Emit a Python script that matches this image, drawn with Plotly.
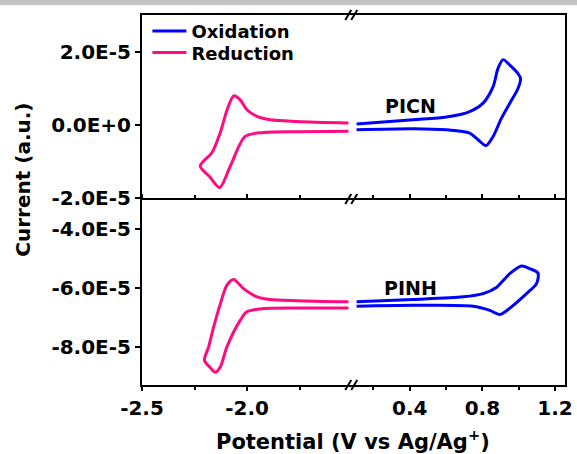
import plotly.graph_objects as go

SCALE = 1e-5  # currents below are given in units of 1E-5

# ---------------- data ----------------
# PICN, reduction sweep (pink) : potential (V), current (x1E-5)
picn_red_v = [-1.518, -1.763, -1.890, -1.953, -2.001, -2.033, -2.064, -2.095, -2.128, -2.167, -2.223,
              -2.177, -2.131, -2.080, -2.009, -1.922, -1.747, -1.518]
picn_red_i = [0.046, 0.09, 0.136, 0.23, 0.41, 0.68, 0.79, 0.41, -0.22, -0.76, -1.13,
              -1.43, -1.72, -1.13, -0.32, -0.21, -0.19, -0.18]

# PICN, oxidation sweep (blue)
picn_ox_v = [0.107, 0.418, 0.602, 0.730, 0.804, 0.859, 0.886, 0.914, 0.951, 0.996, 1.010,
             0.996, 0.951, 0.905, 0.859, 0.819, 0.776, 0.730, 0.602, 0.418, 0.107]
picn_ox_i = [0.02, 0.136, 0.21, 0.36, 0.59, 1.04, 1.54, 1.78, 1.63, 1.40, 1.27,
             0.99, 0.59, 0.18, -0.32, -0.57, -0.41, -0.23, -0.14, -0.11, -0.14]

# PINH, reduction sweep (pink)
pinh_red_v = [-1.518, -1.763, -1.890, -1.953, -2.017, -2.064, -2.096, -2.127, -2.159, -2.183, -2.203,
              -2.178, -2.151, -2.127, -2.096, -2.033, -2.001, -1.922, -1.747, -1.518]
pinh_red_i = [-6.47, -6.43, -6.39, -6.30, -6.02, -5.71, -5.90, -6.53, -7.32, -8.00, -8.46,
              -8.69, -8.87, -8.68, -8.00, -7.10, -6.81, -6.70, -6.68, -6.68]

# PINH, oxidation sweep (blue)
pinh_ox_v = [0.107, 0.418, 0.694, 0.804, 0.877, 0.951, 1.015, 1.061, 1.106,
             1.098, 1.043, 0.960, 0.896, 0.841, 0.749, 0.418, 0.107]
pinh_ox_i = [-6.47, -6.39, -6.30, -6.19, -5.98, -5.51, -5.25, -5.34, -5.49,
             -5.85, -6.19, -6.64, -6.90, -6.76, -6.62, -6.59, -6.62]

x_left_ticks = [-2.5, -2.0]
x_left_labels = ["-2.5", "-2.0"]
x_left_minor = [-2.25, -1.75]
x_right_ticks = [0.4, 0.8, 1.2]
x_right_labels = ["0.4", "0.8", "1.2"]
x_right_minor = [0.2, 0.6, 1.0]
y_top_ticks = [-2e-5, 0.0, 2e-5]
y_top_labels = ["-2.0E-5", "0.0E+0", "2.0E-5"]
y_bot_ticks = [-8e-5, -6e-5, -4e-5]
y_bot_labels = ["-8.0E-5", "-6.0E-5", "-4.0E-5"]

# ---------------- style ----------------
BLUE = "#0000FF"
PINK = "#FF0A82"
FONT = "DejaVu Sans"
SPLIT = 0.497
MID = 0.503
GAP = 1.0 / 370  # lets the two panel borders meet in one line
LW = 3

def sc(vals):
    return [v * SCALE for v in vals]

fig = go.Figure()
fig.add_trace(go.Scatter(x=picn_ox_v, y=sc(picn_ox_i), xaxis="x2", yaxis="y3", mode="lines",
                         name="Oxidation", legend="legend",
                         line=dict(color=BLUE, width=LW, shape="spline", smoothing=0.8)))
fig.add_trace(go.Scatter(x=picn_red_v, y=sc(picn_red_i), xaxis="x", yaxis="y", mode="lines",
                         name="Reduction", legend="legend2",
                         line=dict(color=PINK, width=LW, shape="spline", smoothing=0.8)))
fig.add_trace(go.Scatter(x=pinh_ox_v, y=sc(pinh_ox_i), xaxis="x2", yaxis="y4", mode="lines",
                         showlegend=False, line=dict(color=BLUE, width=LW, shape="spline", smoothing=0.8)))
fig.add_trace(go.Scatter(x=pinh_red_v, y=sc(pinh_red_i), xaxis="x", yaxis="y2", mode="lines",
                         showlegend=False, line=dict(color=PINK, width=LW, shape="spline", smoothing=0.8)))

tickfont = dict(family=FONT, size=20, color="black", weight="bold")
axline = dict(showline=True, linecolor="black", linewidth=2, showgrid=False, zeroline=False,
              automargin=False)
legfont = dict(family=FONT, size=18, color="black", weight="bold")

fig.update_layout(
    width=577, height=454,
    margin=dict(l=142, r=12, t=15, b=69, autoexpand=False),
    paper_bgcolor="white", plot_bgcolor="white",
    xaxis=dict(domain=[0, SPLIT], range=[-2.5, -1.5], anchor="y2", mirror="all",
               tickvals=x_left_ticks, ticktext=x_left_labels, ticks="outside", ticklen=4,
               tickwidth=2, tickcolor="black", tickfont=tickfont,
               minor=dict(tickvals=x_left_minor, ticks="outside", ticklen=3, tickwidth=2, tickcolor="black"),
               **axline),
    xaxis2=dict(domain=[SPLIT, 1], range=[0.083, 1.255], anchor="y4", mirror="all",
                tickvals=x_right_ticks, ticktext=x_right_labels, ticks="outside", ticklen=4,
                tickwidth=2, tickcolor="black", tickfont=tickfont,
                minor=dict(tickvals=x_right_minor, ticks="outside", ticklen=3, tickwidth=2, tickcolor="black"),
                **axline),
    yaxis=dict(domain=[MID + GAP, 1], range=[-2e-5, 3e-5], anchor="x",
               tickvals=y_top_ticks, ticktext=y_top_labels, ticks="outside", ticklen=5,
               tickwidth=2, tickcolor="black", tickfont=tickfont, **axline),
    yaxis2=dict(domain=[0, MID - GAP], range=[-9.3e-5, -3e-5], anchor="x",
                tickvals=y_bot_ticks, ticktext=y_bot_labels, ticks="outside", ticklen=5,
                tickwidth=2, tickcolor="black", tickfont=tickfont, **axline),
    yaxis3=dict(domain=[MID + GAP, 1], matches="y", anchor="x2", side="right",
                showticklabels=False, ticks="", **axline),
    yaxis4=dict(domain=[0, MID - GAP], matches="y2", anchor="x2", side="right",
                showticklabels=False, ticks="", **axline),
    legend=dict(x=0.0128, y=1.0062, xanchor="left", yanchor="top", bgcolor="rgba(0,0,0,0)",
                font=legfont, itemwidth=34),
    legend2=dict(x=0.0128, y=0.9478, xanchor="left", yanchor="top", bgcolor="rgba(0,0,0,0)",
                 font=legfont, itemwidth=34),
    showlegend=True,
)

annots = [
    dict(text="PICN", x=0.405, y=0.52e-5, xref="x2", yref="y3"),
    dict(text="PINH", x=0.405, y=-5.99e-5, xref="x2", yref="y4"),
]
for a in annots:
    fig.add_annotation(showarrow=False, xanchor="center", yanchor="middle",
                       font=dict(family=FONT, size=19, color="black", weight="bold"), **a)

fig.add_annotation(text="Current (a.u.)", textangle=-90, xref="paper", yref="paper",
                   x=-0.2804, y=0.556, xanchor="center", yanchor="middle", showarrow=False,
                   font=dict(family=FONT, size=20, color="black", weight="bold"))
fig.add_annotation(text="Potential (V vs Ag/Ag<sup>+</sup>)", xref="paper", yref="paper",
                   x=0.499, y=-0.1486, xanchor="center", yanchor="middle", showarrow=False,
                   font=dict(family=FONT, size=21, color="black", weight="bold"))

# top grey band
fig.add_shape(type="rect", xref="paper", yref="paper", x0=-0.5, x1=1.2, y0=1.0265, y1=1.3,
              fillcolor="#C3C3C3", line=dict(width=0), layer="above")

# axis-break marks
for yb in [1.0, MID, 0.0]:
    for dx in (-7, -1):
        fig.add_shape(type="line", xref="paper", yref="paper",
                      xsizemode="pixel", xanchor=SPLIT, x0=dx, x1=dx + 6,
                      ysizemode="pixel", yanchor=yb, y0=-5, y1=5,
                      line=dict(color="black", width=2), layer="above")

fig.write_html("out.html", config={"displayModeBar": False},
               post_script="document.body.style.margin='0';document.body.style.padding='0';")
